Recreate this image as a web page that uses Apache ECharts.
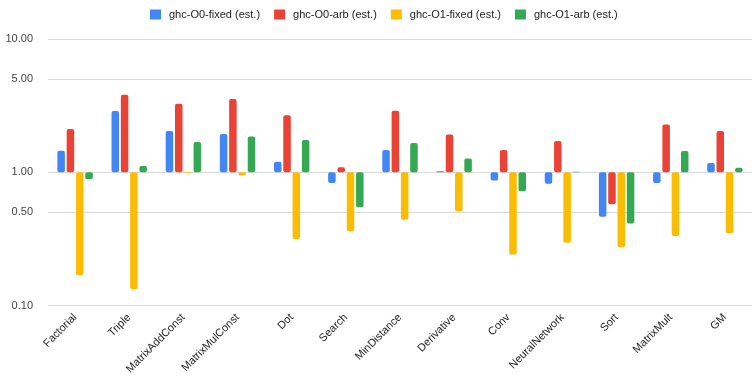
<!DOCTYPE html>
<html>
<head>
<meta charset="utf-8">
<script src="https://cdn.jsdelivr.net/npm/echarts@6/dist/echarts.min.js"></script>
<style>
  html, body { margin: 0; padding: 0; background: #fff; }
  #chart { width: 753px; height: 377px; }
</style>
</head>
<body>
<div id="chart"></div>
<script>
// Benchmarks along the x axis
const categories = [
  'Factorial', 'Triple', 'MatrixAddConst', 'MatrixMulConst', 'Dot', 'Search',
  'MinDistance', 'Derivative', 'Conv', 'NeuralNetwork', 'Sort', 'MatrixMult', 'GM'
];

// Relative speed per benchmark (log scale, 1.00 = baseline)
const ghcO0Fixed = [1.45, 2.89, 2.04, 1.94, 1.20, 0.83, 1.47, 1.02, 0.87, 0.82, 0.465, 0.83, 1.175];
const ghcO0Arb   = [2.11, 3.82, 3.27, 3.55, 2.68, 1.09, 2.90, 1.92, 1.47, 1.715, 0.577, 2.28, 2.04];
const ghcO1Fixed = [0.169, 0.133, 0.99, 0.945, 0.316, 0.361, 0.441, 0.509, 0.242, 0.297, 0.274, 0.333, 0.349];
const ghcO1Arb   = [0.887, 1.116, 1.69, 1.86, 1.745, 0.548, 1.66, 1.27, 0.721, 1.01, 0.414, 1.445, 1.084];

// Y axis tick values
const yTicks = [0.1, 0.5, 1, 5, 10];

const seriesNames = ['ghc-O0-fixed (est.)', 'ghc-O0-arb (est.)', 'ghc-O1-fixed (est.)', 'ghc-O1-arb (est.)'];
const seriesData = [ghcO0Fixed, ghcO0Arb, ghcO1Fixed, ghcO1Arb];
const colors = ['#4285F4', '#EA4335', '#FBBC04', '#34A853'];

const chart = echarts.init(document.getElementById('chart'));

chart.setOption({
  animation: false,
  color: colors,
  textStyle: { fontFamily: 'Liberation Sans, Arial, sans-serif' },
  legend: {
    top: 4,
    left: 145,
    itemWidth: 11,
    itemHeight: 10,
    itemGap: 14,
    icon: 'rect',
    textStyle: { fontSize: 11, color: '#222', padding: [0, 0, 0, 3] },
    data: seriesNames
  },
  grid: { left: 48, right: 1, top: 39, bottom: 69, containLabel: false },
  xAxis: {
    type: 'category',
    data: categories,
    axisLine: { show: false },
    axisTick: { show: false },
    axisLabel: {
      rotate: 45,
      interval: 0,
      margin: 10,
      fontSize: 11,
      color: '#222'
    }
  },
  yAxis: {
    type: 'log',
    logBase: 10,
    min: 0.1,
    max: 10,
    axisLine: { show: false },
    axisTick: { show: false, customValues: yTicks },
    axisLabel: {
      customValues: yTicks,
      fontSize: 11,
      color: '#444',
      margin: 15,
      formatter: v => v.toFixed(2)
    },
    splitLine: { show: true, lineStyle: { color: '#d9d9d9', width: 1 } }
  },
  series: seriesNames.map((name, i) => ({
    name,
    type: 'bar',
    data: seriesData[i],
    barWidth: 7.5,
    barGap: '24%',
    itemStyle: { borderRadius: 2 }
  }))
});
</script>
</body>
</html>
